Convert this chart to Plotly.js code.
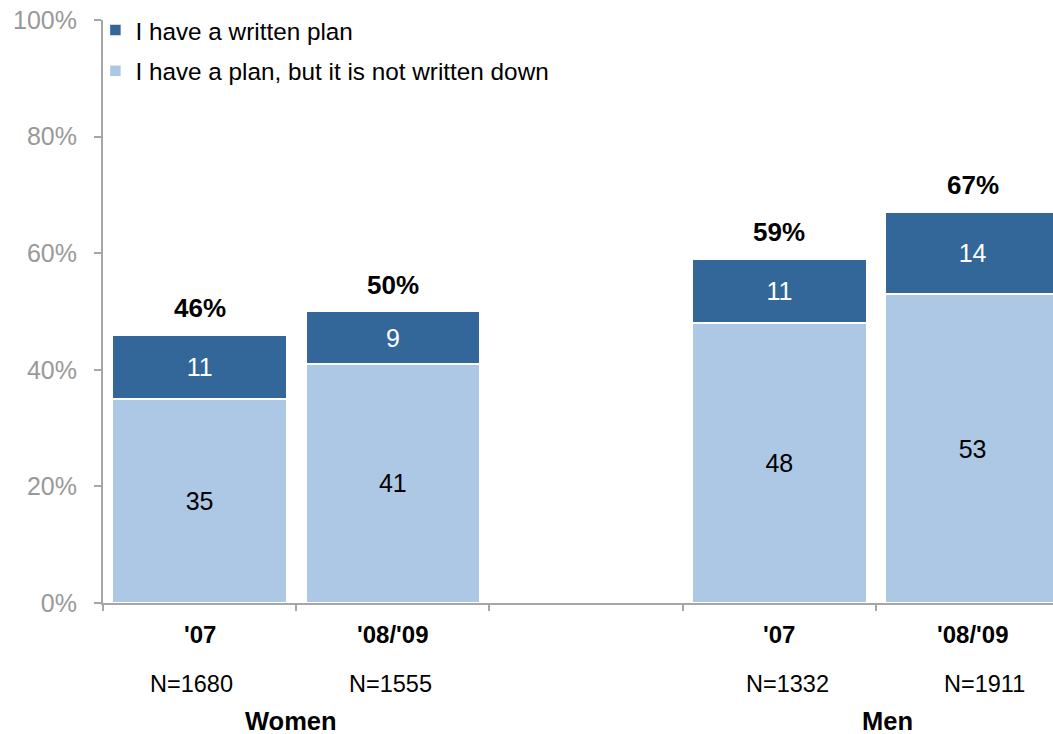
<!DOCTYPE html>
<html>
<head>
<meta charset="utf-8">
<script src="https://cdn.plot.ly/plotly-3.0.1.min.js"></script>
<style>html,body{margin:0;padding:0;background:#fff;}#chart{width:1053px;height:734px;}</style>
</head>
<body>
<div id="chart"></div>
<script>
const categories = ["W07", "W0809", "M07", "M0809"];
const yearLabels = ["'07", "'08/'09", "'07", "'08/'09"];
const sampleSizes = ["N=1680", "N=1555", "N=1332", "N=1911"];
const groups = ["Women", "Men"];
const notWritten = [35, 41, 48, 53];
const written = [11, 9, 11, 14];
const totals = [46, 50, 59, 67];
const axisOrder = ["W07", "W0809", "gap", "M07", "M0809"];

const font = "Liberation Sans, Arial, sans-serif";
const gray = "#a6a6a6";

const traces = [
  {
    type: "bar", name: "I have a plan, but it is not written down",
    x: categories, y: notWritten, text: notWritten.map(String),
    textposition: "inside", insidetextanchor: "middle",
    textfont: {color: "#000", size: 25, family: font},
    marker: {color: "#adc8e4", line: {color: "#fff", width: 1.5}},
    legendgroup: "b", legendrank: 2, hoverinfo: "y"
  },
  {
    type: "bar", name: "I have a written plan",
    x: categories, y: written, text: written.map(String),
    textposition: "inside", insidetextanchor: "middle",
    textfont: {color: "#fff", size: 25, family: font},
    marker: {color: "#336699", line: {color: "#fff", width: 1.5}},
    legendgroup: "a", legendrank: 1, hoverinfo: "y"
  }
];

const annotations = [];
const nShift = [-8, -2, 8, 12];
categories.forEach((c, i) => {
  annotations.push({x: c, xref: "x", y: totals[i], yref: "y", yanchor: "bottom", yshift: 10,
    text: "<b>" + totals[i] + "%</b>", showarrow: false, font: {size: 26, color: "#000", family: font}});
  annotations.push({x: c, xref: "x", y: 0, yref: "paper", yshift: -31, yanchor: "middle",
    text: "<b>" + yearLabels[i] + "</b>", showarrow: false, font: {size: 24, color: "#000", family: font}});
  annotations.push({x: c, xref: "x", y: 0, yref: "paper", yshift: -81, xshift: nShift[i], yanchor: "middle",
    text: sampleSizes[i], showarrow: false, font: {size: 23.5, color: "#000", family: font}});
});
annotations.push({x: 0.473, xref: "x", y: 0, yref: "paper", yshift: -118, yanchor: "middle",
  text: "<b>" + groups[0] + "</b>", showarrow: false, font: {size: 25.5, color: "#000", family: font}});
annotations.push({x: 3.557, xref: "x", y: 0, yref: "paper", yshift: -118, yanchor: "middle",
  text: "<b>" + groups[1] + "</b>", showarrow: false, font: {size: 25.5, color: "#000", family: font}});

const layout = {
  width: 1053, height: 734,
  margin: {l: 103, r: 0, t: 20, b: 131, pad: 0},
  paper_bgcolor: "#fff", plot_bgcolor: "#fff",
  barmode: "stack", bargap: 0.1,
  font: {family: font, size: 24, color: "#000"},
  showlegend: true,
  legend: {x: -0.008, y: 1.021, xanchor: "left", yanchor: "top", traceorder: "grouped",
    tracegroupgap: 6, font: {size: 24.3, family: font, color: "#000"}, bgcolor: "rgba(0,0,0,0)", itemwidth: 30},
  xaxis: {type: "category", categoryorder: "array", categoryarray: axisOrder,
    range: [-0.5, 4.416], tickmode: "array", tickvals: [-0.5, 0.5, 1.5, 2.5, 3.5], ticktext: ["", "", "", "", ""],
    ticks: "outside", ticklen: 6, tickwidth: 2, tickcolor: gray,
    showline: true, linecolor: gray, linewidth: 2, showgrid: false, zeroline: false, fixedrange: true},
  yaxis: {range: [0, 100], tickvals: [0, 20, 40, 60, 80, 100], ticktext: ["0%", "20%", "40%", "60%", "80%", "100%"],
    ticks: "outside", ticklen: 7, tickwidth: 2, tickcolor: gray, ticklabelstandoff: 12,
    showline: true, linecolor: gray, linewidth: 2, showgrid: false, zeroline: false,
    tickfont: {size: 25, color: "#999", family: font}},
  annotations: annotations
};

Plotly.newPlot("chart", traces, layout, {displayModeBar: false, staticPlot: true});
</script>
</body>
</html>
